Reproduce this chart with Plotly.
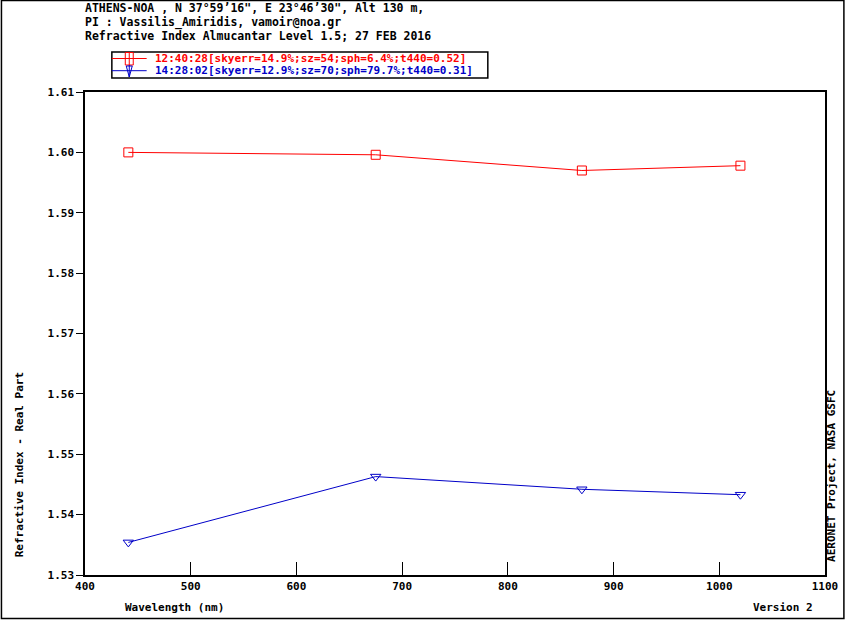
import plotly.graph_objects as go

# Wavelengths (nm) and real part of refractive index
wavelengths = [441, 675, 870, 1020]
ri_1240 = [1.6000, 1.5996, 1.5970, 1.5978]
ri_1428 = [1.5354, 1.5463, 1.5442, 1.5433]

name_1240 = "12:40:28[skyerr=14.9%;sz=54;sph=6.4%;t440=0.52]"
name_1428 = "14:28:02[skyerr=12.9%;sz=70;sph=79.7%;t440=0.31]"

title_lines = [
    "ATHENS-NOA , N 37°59’16\", E 23°46’30\", Alt 130 m,",
    "PI : Vassilis_Amiridis, vamoir@noa.gr",
    "Refractive Index Almucantar Level 1.5; 27 FEB 2016",
]

x_ticks = [400, 500, 600, 700, 800, 900, 1000, 1100]
y_ticks = [1.53, 1.54, 1.55, 1.56, 1.57, 1.58, 1.59, 1.60, 1.61]

RED = "#ff0000"
BLUE = "#0000c8"
FONT = "DejaVu Sans Mono"

fig = go.Figure()
fig.add_trace(go.Scatter(
    x=wavelengths, y=ri_1240, mode="lines+markers", name=name_1240,
    line=dict(color=RED, width=1),
    marker=dict(symbol="square-open", size=9, color=RED, line=dict(width=1)),
))
fig.add_trace(go.Scatter(
    x=wavelengths, y=ri_1428, mode="lines+markers", name=name_1428,
    line=dict(color=BLUE, width=1),
    marker=dict(symbol="triangle-down-open", size=9, color=BLUE, line=dict(width=1)),
))

# Plot area in px: x 85..829, y 92..575
L, R, T, B = 85, 21, 92, 45
W, H = 850 - L - R, 620 - T - B


def px(x):
    return (x - L) / W


def py(y):
    return (620 - B - y) / H


def note(text, x, y, anchor="left", angle=0, color="black", size=11):
    return dict(text=f"<b>{text}</b>", x=px(x), y=py(y), xref="paper", yref="paper",
                xanchor=anchor, yanchor="middle", showarrow=False, textangle=angle,
                font=dict(family=FONT, size=size, color=color))


annotations = [note(line, 83, 8 + i * 14, size=11.5) for i, line in enumerate(title_lines)]
annotations += [
    note("Wavelength (nm)", 123, 607),
    note("Version 2", 819, 607, anchor="right"),
    note("Refractive Index - Real Part", 20, 465, anchor="center", angle=-90),
    note("AERONET Project, NASA GSFC", 835, 476, anchor="center", angle=-90),
    # hand-made legend (plotly's legend rows are too tall)
    note(name_1240, 153, 58.5, color=RED),
    note(name_1428, 153, 70.7, color=BLUE),
]


def pshape(**kw):
    base = dict(xref="paper", yref="paper")
    base.update(kw)
    return base


shapes = [
    # outer frame
    pshape(type="rect", x0=px(1), x1=px(848), y0=py(618.5), y1=py(0.5),
           line=dict(color="black", width=1.5), layer="below"),
    # legend box and symbols
    pshape(type="rect", x0=px(112), x1=px(490), y0=py(78), y1=py(52),
           line=dict(color="black", width=1.5), fillcolor="white"),
    pshape(type="line", x0=px(112), x1=px(147), y0=py(58.5), y1=py(58.5),
           line=dict(color=RED, width=1)),
    pshape(type="rect", x0=px(125.5), x1=px(133.5), y0=py(65), y1=py(52.5),
           line=dict(color=RED, width=1)),
    pshape(type="line", x0=px(129.5), x1=px(129.5), y0=py(65), y1=py(52.5),
           line=dict(color=RED, width=1)),
    pshape(type="line", x0=px(112), x1=px(147), y0=py(70.7), y1=py(70.7),
           line=dict(color=BLUE, width=1)),
    pshape(type="path",
           path=f"M {px(126.5)} {py(66)} L {px(132.5)} {py(66)} L {px(129.5)} {py(77)} Z",
           line=dict(color=BLUE, width=1)),
    pshape(type="line", x0=px(129.5), x1=px(129.5), y0=py(77), y1=py(65),
           line=dict(color=BLUE, width=1)),
]

fig.update_layout(
    width=850, height=620,
    margin=dict(l=L, r=R, t=T, b=B),
    paper_bgcolor="white", plot_bgcolor="white",
    showlegend=False,
    annotations=annotations,
    shapes=shapes,
)

fig.update_xaxes(
    range=[400, 1100], tickvals=x_ticks, ticktext=[f"<b>{v}</b>" for v in x_ticks],
    ticks="inside", ticklen=13, tickcolor="black", tickwidth=1,
    showline=True, linecolor="black", linewidth=1.5, mirror=True,
    showgrid=False, zeroline=False,
    tickfont=dict(family=FONT, size=11, color="black"),
)
fig.update_yaxes(
    range=[1.53, 1.61], tickvals=y_ticks, ticktext=[f"<b>{v:.2f}</b>" for v in y_ticks],
    ticks="outside", ticklen=7, tickcolor="black", tickwidth=1,
    showline=True, linecolor="black", linewidth=1.5, mirror=True,
    showgrid=False, zeroline=False,
    tickfont=dict(family=FONT, size=11, color="black"),
)

fig.write_html("out.html", config={"displayModeBar": False},
               post_script="document.body.style.margin='0';")
